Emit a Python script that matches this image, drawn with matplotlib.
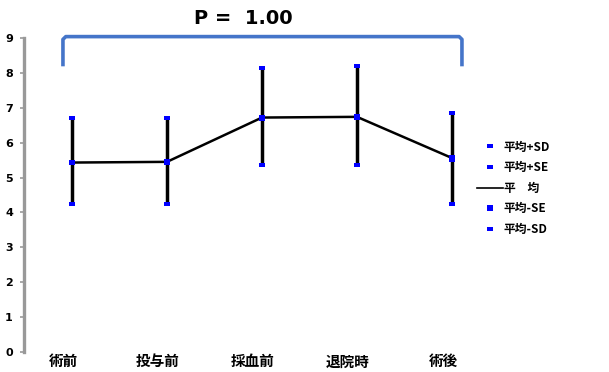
import numpy as np
import matplotlib
matplotlib.use("Agg")
import matplotlib.pyplot as plt
from matplotlib.lines import Line2D
from matplotlib.transforms import ScaledTranslation

plt.rcParams['font.family'] = ['Noto Sans CJK JP', 'DejaVu Sans']

# time points and summary values
labels = ["術前", "投与前", "採血前", "退院時", "術後"]
mean = [5.43, 5.45, 6.72, 6.74, 5.56]
sd_upper = [6.70, 6.72, 8.15, 8.21, 6.86]
sd_lower = [4.24, 4.24, 5.36, 5.35, 4.25]
se_upper = [5.45, 5.47, 6.75, 6.77, 5.60]
se_lower = [5.41, 5.43, 6.69, 6.71, 5.50]
p_text = "P =  1.00"

x = np.arange(len(labels))
blue = "#0000ff"
flat = [(-1, -0.6), (1, -0.6), (1, 0.6), (-1, 0.6), (-1, -0.6)]

fig = plt.figure(figsize=(6.09, 3.72), dpi=100)
ax = fig.add_axes([24 / 609, 1 - 352 / 372, 475 / 609, (352 - 38) / 372])

# SD error bars and mean line
ax.vlines(x, sd_lower, sd_upper, color="black", lw=2.5, zorder=2)
ax.plot(x, mean, color="black", lw=1.8, zorder=3)
for vals in (sd_upper, sd_lower, se_upper, se_lower):
    ax.plot(x, vals, ls="none", marker=flat, ms=4.5, mfc=blue, mec=blue, mew=0, zorder=4)

ax.set_ylim(0, 9)
ax.set_xlim(-0.505, 4.495)
ax.set_yticks(range(10))
ax.set_yticklabels([str(i) for i in range(10)], fontsize=8, fontweight="bold",
                   family="DejaVu Sans")
ax.set_xticks(x)
ax.set_xticklabels(labels, fontsize=10.5, fontweight="bold")
ax.tick_params(axis="x", length=0, pad=1)
ax.tick_params(axis="y", direction="out", length=3, width=1.2, color="#999999", pad=5)
shift = ScaledTranslation(-9 / 100, 0, fig.dpi_scale_trans)
for t in ax.get_xticklabels():
    t.set_transform(t.get_transform() + shift)

for s in ["top", "right", "bottom"]:
    ax.spines[s].set_visible(False)
ax.spines["left"].set_color("#999999")
ax.spines["left"].set_linewidth(2.4)

# significance bracket
x0, x1 = -0.095, 4.105
y0, y1 = 8.24, 9.04
bx = [x0, x0, x0 + 0.03, x1 - 0.03, x1, x1]
by = [y0, y1 - 0.08, y1, y1, y1 - 0.08, y0]
ax.plot(bx, by, color="#4575c9", lw=2.6, clip_on=False, solid_joinstyle="round")
fig.text(243 / 609, 1 - 19 / 372, p_text, ha="center", va="center",
         fontsize=14, fontweight="bold", family="DejaVu Sans")

# legend
dash = dict(ls="none", marker=flat, ms=4.5, mew=0, color=blue)
handles = [
    Line2D([], [], **dash),
    Line2D([], [], **dash),
    Line2D([], [], color="black", lw=1.2),
    Line2D([], [], ls="none", marker="s", ms=4, mew=0, color=blue),
    Line2D([], [], **dash),
]
names = ["平均+SD", "平均+SE", "平　均", "平均-SE", "平均-SD"]
fig.legend(handles, names, loc="upper left", bbox_to_anchor=(466 / 609, 1 - 130 / 372),
           frameon=False, handlelength=2.2, handletextpad=0.1, labelspacing=0.64,
           prop={"size": 8.5, "weight": "bold"})

fig.savefig("out.png", dpi=100)
